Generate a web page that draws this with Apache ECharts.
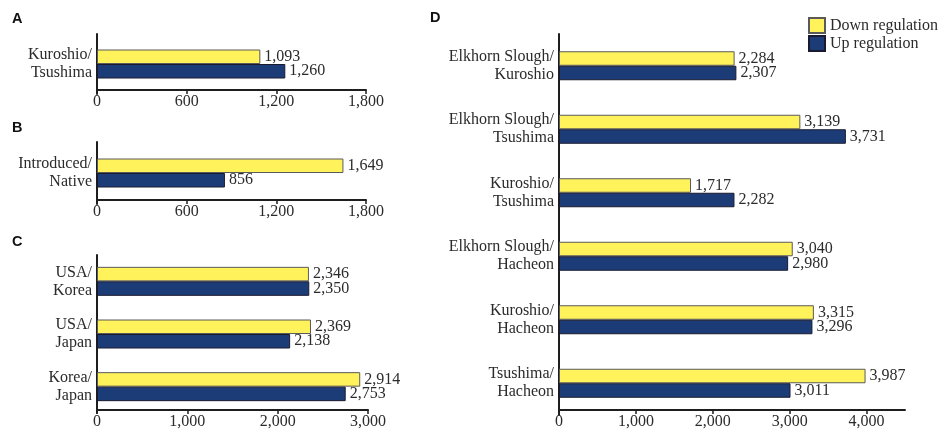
<!DOCTYPE html>
<html>
<head>
<meta charset="utf-8">
<script src="https://cdn.jsdelivr.net/npm/echarts@6/dist/echarts.min.js"></script>
<style>
  html, body { margin: 0; padding: 0; background: #ffffff; }
  #chart { width: 941px; height: 434px; }
</style>
</head>
<body>
<div id="chart"></div>
<script>
// Differentially expressed gene counts for each population comparison
const seriesNames = ['Down regulation', 'Up regulation'];

// Panel A
const categoriesA = ['Kuroshio/\nTsushima'];
const downA = [1093];
const upA = [1260];
const ticksA = [0, 600, 1200, 1800];

// Panel B
const categoriesB = ['Introduced/\nNative'];
const downB = [1649];
const upB = [856];
const ticksB = [0, 600, 1200, 1800];

// Panel C
const categoriesC = ['USA/\nKorea', 'USA/\nJapan', 'Korea/\nJapan'];
const downC = [2346, 2369, 2914];
const upC = [2350, 2138, 2753];
const ticksC = [0, 1000, 2000, 3000];

// Panel D
const categoriesD = [
  'Elkhorn Slough/\nKuroshio',
  'Elkhorn Slough/\nTsushima',
  'Kuroshio/\nTsushima',
  'Elkhorn Slough/\nHacheon',
  'Kuroshio/\nHacheon',
  'Tsushima/\nHacheon'
];
const downD = [2284, 3139, 1717, 3040, 3315, 3987];
const upD = [2307, 3731, 2282, 2980, 3296, 3011];
const ticksD = [0, 1000, 2000, 3000, 4000];
const axisMaxD = 4500;

const SERIF = '"Liberation Serif", "Times New Roman", serif';
const TEXT = '#2b2b2b';
const AXIS = '#1e1e1e';
const YELLOW = '#fff25a';
const BLUE = '#1c3c78';
const FS = 16;

const fmt = v => Number(v).toLocaleString('en-US');

// Grid geometry per panel; xOffset lifts the value axis so the bars sit
// a little lower inside the vertical axis span.
const panels = [
  { letter: 'A', cats: categoriesA, down: downA, up: upA, ticks: ticksA, max: 1800,
    grid: { left: 97, top: 34, width: 269, height: 60 }, xOffset: -4, letterPos: [12, 11] },
  { letter: 'B', cats: categoriesB, down: downB, up: upB, ticks: ticksB, max: 1800,
    grid: { left: 97, top: 142, width: 269, height: 62 }, xOffset: -4, letterPos: [12, 120] },
  { letter: 'C', cats: categoriesC, down: downC, up: upC, ticks: ticksC, max: 3000,
    grid: { left: 97, top: 255, width: 271, height: 158 }, xOffset: -3, letterPos: [12, 234] },
  { letter: 'D', cats: categoriesD, down: downD, up: upD, ticks: ticksD, max: axisMaxD,
    grid: { left: 559, top: 34, width: 346, height: 381 }, xOffset: -5, letterPos: [430, 10] }
];

const option = {
  animation: false,
  backgroundColor: '#ffffff',
  title: panels.map(p => ({
    text: p.letter,
    left: p.letterPos[0],
    top: p.letterPos[1],
    padding: 0,
    textStyle: { fontFamily: '"Liberation Sans", Arial, sans-serif', fontWeight: 'bold', fontSize: 14.5, color: '#111' }
  })),
  legend: {
    data: seriesNames,
    orient: 'vertical',
    left: 808,
    top: 17,
    padding: 0,
    itemWidth: 16,
    itemHeight: 15,
    itemGap: 1,
    icon: 'rect',
    textStyle: { fontFamily: SERIF, fontSize: FS, color: TEXT, padding: [0, 0, 0, 0] }
  },
  grid: panels.map(p => Object.assign({ containLabel: false }, p.grid)),
  xAxis: panels.map((p, i) => ({
    type: 'value',
    gridIndex: i,
    min: 0,
    max: p.max,
    offset: p.xOffset,
    splitLine: { show: false },
    axisLine: { show: true, lineStyle: { color: AXIS, width: 2 } },
    axisTick: { show: true, length: 4, customValues: p.ticks, lineStyle: { color: AXIS, width: 1.5 } },
    axisLabel: {
      customValues: p.ticks,
      margin: 4,
      formatter: fmt,
      fontFamily: SERIF, fontSize: FS, color: TEXT
    }
  })),
  yAxis: panels.map((p, i) => ({
    type: 'category',
    gridIndex: i,
    inverse: true,
    data: p.cats,
    axisLine: { show: true, onZero: false, lineStyle: { color: AXIS, width: 2 } },
    axisTick: { show: false },
    axisLabel: {
      margin: 5,
      align: 'right',
      lineHeight: 18,
      fontFamily: SERIF, fontSize: FS, color: TEXT
    }
  })),
  series: []
};

panels.forEach((p, i) => {
  [[p.down, YELLOW, '#5a5a5a'], [p.up, BLUE, '#1a1a2e']].forEach((s, k) => {
    option.series.push({
      type: 'bar',
      name: seriesNames[k],
      xAxisIndex: i,
      yAxisIndex: i,
      data: s[0],
      barWidth: 14.5,
      barGap: '0%',
      itemStyle: { color: s[1], borderColor: s[2], borderWidth: 1 },
      label: {
        show: true,
        position: 'right',
        distance: 4,
        formatter: q => fmt(q.value),
        fontFamily: SERIF, fontSize: FS, color: TEXT
      }
    });
  });
});

const chart = echarts.init(document.getElementById('chart'), null, { renderer: 'canvas' });
chart.setOption(option);
</script>
</body>
</html>
